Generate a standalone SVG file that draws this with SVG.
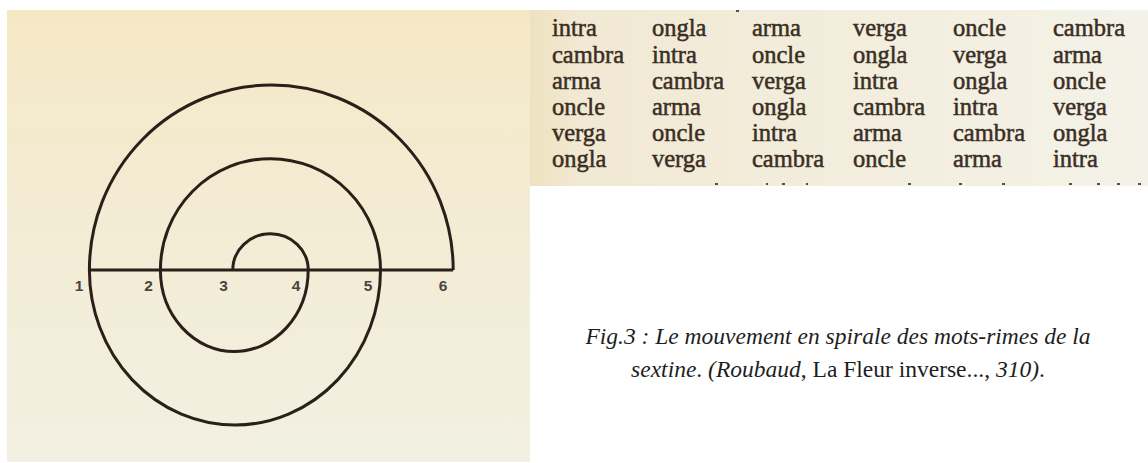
<svg xmlns="http://www.w3.org/2000/svg" width="1148" height="463" viewBox="0 0 1148 463">
  <defs>
    <linearGradient id="panelBg" x1="0" y1="0" x2="0" y2="1">
      <stop offset="0" stop-color="#f5e8c5"/>
      <stop offset="0.45" stop-color="#f3ecd4"/>
      <stop offset="1" stop-color="#f2f0e2"/>
    </linearGradient>
    <linearGradient id="tableBg" x1="0" y1="0" x2="1" y2="0">
      <stop offset="0" stop-color="#eee2c0"/>
      <stop offset="0.08" stop-color="#f1e9d3"/>
      <stop offset="1" stop-color="#f4f2e8"/>
    </linearGradient>
    <style>
      .spiral { fill: none; stroke: #2a2019; stroke-width: 3; stroke-linejoin: miter; stroke-linecap: butt; }
      .num { font-family: "Liberation Sans", Arial, sans-serif; font-weight: bold; font-size: 15.5px; fill: #4a4541; text-anchor: middle; }
      .word { font-family: "Liberation Serif", "Times New Roman", serif; font-size: 24.5px; fill: #3a2e24; stroke: #3a2e24; stroke-width: 0.5; }
      .cap { font-family: "Liberation Serif", "Times New Roman", serif; font-size: 23.5px; fill: #1e1e1e; text-anchor: middle; }
      .it { font-style: italic; }
      .mark { fill: #5a4f45; }
    </style>
  </defs>

  <rect width="1148" height="463" fill="#ffffff"/>

  <g id="spiral-figure">
    <rect x="7" y="10" width="523" height="452" fill="url(#panelBg)"/>
    <g id="connectors">
      <path class="spiral" d="M 232.8 270 A 37.7 36.2 0 0 1 308.2 270 A 73.9 81.5 0 0 1 160.4 270 A 110 111.3 0 0 1 380.5 270 A 145.5 155 0 0 1 89.4 270 A 181.9 185 0 0 1 453.2 270"/>
      <path class="spiral" d="M 89.4 270 H 453.2"/>
    </g>
    <g id="labels">
      <text class="num" x="79" y="291">1</text>
      <text class="num" x="148.5" y="291">2</text>
      <text class="num" x="223.5" y="291">3</text>
      <text class="num" x="296" y="291">4</text>
      <text class="num" x="368" y="291">5</text>
      <text class="num" x="443" y="291">6</text>
    </g>
  </g>

  <g id="sextine-table">
    <rect x="530" y="10" width="618" height="176" fill="url(#tableBg)"/>
    <g class="word">
      <text y="36"><tspan x="552">intra</tspan><tspan x="652">ongla</tspan><tspan x="752">arma</tspan><tspan x="853">verga</tspan><tspan x="953">oncle</tspan><tspan x="1053">cambra</tspan></text>
      <text y="62.5"><tspan x="552">cambra</tspan><tspan x="652">intra</tspan><tspan x="752">oncle</tspan><tspan x="853">ongla</tspan><tspan x="953">verga</tspan><tspan x="1053">arma</tspan></text>
      <text y="89"><tspan x="552">arma</tspan><tspan x="652">cambra</tspan><tspan x="752">verga</tspan><tspan x="853">intra</tspan><tspan x="953">ongla</tspan><tspan x="1053">oncle</tspan></text>
      <text y="115"><tspan x="552">oncle</tspan><tspan x="652">arma</tspan><tspan x="752">ongla</tspan><tspan x="853">cambra</tspan><tspan x="953">intra</tspan><tspan x="1053">verga</tspan></text>
      <text y="141"><tspan x="552">verga</tspan><tspan x="652">oncle</tspan><tspan x="752">intra</tspan><tspan x="853">arma</tspan><tspan x="953">cambra</tspan><tspan x="1053">ongla</tspan></text>
      <text y="167"><tspan x="552">ongla</tspan><tspan x="652">verga</tspan><tspan x="752">cambra</tspan><tspan x="853">oncle</tspan><tspan x="953">arma</tspan><tspan x="1053">intra</tspan></text>
    </g>
    <g id="scan-marks">
      <rect class="mark" x="736" y="10" width="3" height="2"/>
      <rect class="mark" x="715" y="183" width="3" height="2"/>
      <rect class="mark" x="766" y="183" width="2" height="2"/>
      <rect class="mark" x="782" y="183" width="3" height="2"/>
      <rect class="mark" x="806" y="183" width="2" height="2"/>
      <rect class="mark" x="908" y="183" width="3" height="2"/>
      <rect class="mark" x="959" y="183" width="3" height="2"/>
      <rect class="mark" x="1002" y="183" width="3" height="2"/>
      <rect class="mark" x="1069" y="183" width="3" height="2"/>
      <rect class="mark" x="1097" y="183" width="3" height="2"/>
      <rect class="mark" x="1117" y="183" width="3" height="2"/>
      <rect class="mark" x="1138" y="183" width="3" height="2"/>
    </g>
  </g>

  <g id="caption">
    <text class="cap" x="838" y="344"><tspan class="it">Fig.3 : Le mouvement en spirale des mots-rimes de la</tspan></text>
    <text class="cap" x="838" y="377"><tspan class="it">sextine</tspan>. <tspan class="it">(Roubaud</tspan>, La Fleur inverse..., <tspan class="it">310)</tspan>.</text>
  </g>
</svg>
